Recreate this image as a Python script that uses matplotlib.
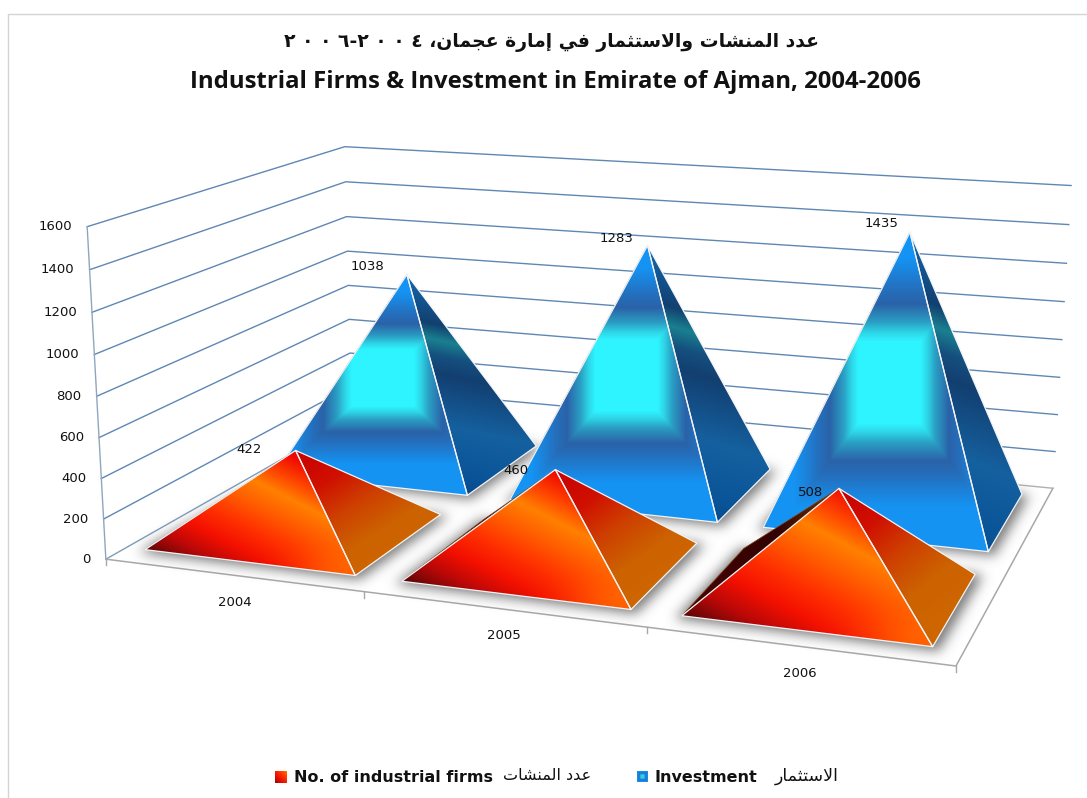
import numpy as np
import matplotlib
matplotlib.use('Agg')
import matplotlib.pyplot as plt
from matplotlib.patches import Polygon
from matplotlib.path import Path
from matplotlib.colors import to_rgb

years = ['2004', '2005', '2006']
firms = [422, 460, 508]
investment = [1038, 1283, 1435]
value_ticks = [0, 200, 400, 600, 800, 1000, 1200, 1400, 1600]

title_ar = 'عدد المنشات والاستثمار في إمارة عجمان،'
title_ar_years = '٢ ٠ ٠ ٦-٢ ٠ ٠ ٤'
title_en = 'Industrial Firms & Investment in Emirate of Ajman, 2004-2006'
legend_firms = 'No. of industrial firms'
legend_firms_ar = 'عدد المنشات'
legend_inv = 'Investment'
legend_inv_ar = 'الاستثمار'

# matplotlib does no arabic shaping, so pick the presentation forms by hand
FORMS = {
    'ع': (0xFEC9, 0xFECA, 0xFECB, 0xFECC), 'ل': (0xFEDD, 0xFEDE, 0xFEDF, 0xFEE0),
    'م': (0xFEE1, 0xFEE2, 0xFEE3, 0xFEE4), 'ن': (0xFEE5, 0xFEE6, 0xFEE7, 0xFEE8),
    'ش': (0xFEB5, 0xFEB6, 0xFEB7, 0xFEB8), 'ت': (0xFE95, 0xFE96, 0xFE97, 0xFE98),
    'س': (0xFEB1, 0xFEB2, 0xFEB3, 0xFEB4), 'ث': (0xFE99, 0xFE9A, 0xFE9B, 0xFE9C),
    'ف': (0xFED1, 0xFED2, 0xFED3, 0xFED4), 'ي': (0xFEF1, 0xFEF2, 0xFEF3, 0xFEF4),
    'ج': (0xFE9D, 0xFE9E, 0xFE9F, 0xFEA0),
    'د': (0xFEA9, 0xFEAA), 'ا': (0xFE8D, 0xFE8E), 'و': (0xFEED, 0xFEEE),
    'ر': (0xFEAD, 0xFEAE), 'إ': (0xFE87, 0xFE88), 'ة': (0xFE93, 0xFE94),
}


def shape(text):
    out = []
    i = 0
    prev_joins = False
    while i < len(text):
        c = text[i]
        nxt = text[i + 1] if i + 1 < len(text) else ''
        if c == 'ل' and nxt == 'ا':
            out.append(chr(0xFEFC if prev_joins else 0xFEFB))
            prev_joins = False
            i += 2
            continue
        if c not in FORMS:
            out.append(c)
            prev_joins = False
            i += 1
            continue
        f = FORMS[c]
        dual = len(f) == 4
        next_ok = dual and nxt in FORMS
        if prev_joins and next_ok:
            out.append(chr(f[3]))
        elif prev_joins:
            out.append(chr(f[1]))
        elif next_ok:
            out.append(chr(f[2]))
        else:
            out.append(chr(f[0]))
        prev_joins = dual
        i += 1
    return ''.join(reversed(out))


# box corners on the page, (category, depth, value) -> pixel
WORLD = [(0, 0, 0), (3, 0, 0), (3, 2, 0), (0, 2, 0), (0, 0, 1600), (0, 2, 1600), (3, 2, 1600)]
PIX = [(106, 558), (956, 667), (1053, 487), (351.5, 421), (87, 227), (345, 146), (1071, 186)]
rows, rhs = [], []
for (X, Y, Z), (x, y) in zip(WORLD, PIX):
    Z = Z / 1600
    rows.append([X, Y, Z, 1, 0, 0, 0, 0, -x * X, -x * Y, -x * Z])
    rhs.append(x)
    rows.append([0, 0, 0, 0, X, Y, Z, 1, -y * X, -y * Y, -y * Z])
    rhs.append(y)
sol = np.linalg.lstsq(np.array(rows, float), np.array(rhs, float), rcond=None)[0]
P = np.append(sol, 1).reshape(3, 4)


def proj(u, v, val):
    q = P @ np.array([u, v, val / 1600, 1.0])
    return q[0] / q[2], q[1] / q[2]


def ramp(t, stops):
    pos = [s[0] for s in stops]
    cols = np.array([to_rgb(s[1]) for s in stops])
    return np.dstack([np.interp(t, pos, cols[:, k]) for k in range(3)])


def tex_blue_front(px, py, bw):
    d = np.maximum(np.abs(px - 0.56) * bw / 34, np.abs(py - 0.47) / 0.14)
    return ramp(d, [(0, '#2EF4FF'), (0.92, '#2EF4FF'), (1.12, '#2ED4E6'), (1.35, '#2A9FC4'),
                    (1.75, '#2A62A8'), (2.1, '#2470BE'), (2.8, '#1494F4'), (9, '#1490F0')])


def tex_blue_side(px, py, bw):
    q = py - 0.12 * px
    return ramp(q, [(-0.12, '#1A80D0'), (0.12, '#12508A'), (0.2, '#12406F'), (0.27, '#1A8090'),
                    (0.34, '#15507F'), (0.42, '#123F70'), (0.65, '#15609F'), (0.85, '#0A5598'), (1, '#054488')])


def tex_red_front(px, py, bw):
    w = py - 0.85 * px
    img = ramp(w, [(-0.75, '#E00000'), (-0.55, '#F00800'), (-0.35, '#FF4800'), (-0.2, '#FF8000'),
                   (0.0, '#FF5A00'), (0.2, '#FF3000'), (0.4, '#F41000'), (0.6, '#B80808'), (0.8, '#5A0606')])
    bump = 0.6 * np.exp(-((px - 0.95) ** 2 + (py - 0.98) ** 2) / 0.05)[..., None]
    return img * (1 - bump) + np.array(to_rgb('#FF7A00')) * bump


def tex_red_side(px, py, bw):
    q = 0.55 * px + 0.75 * py
    return ramp(q, [(0, '#C80000'), (0.3, '#D01000'), (0.55, '#CE4000'), (0.8, '#CC6200'), (1.3, '#D06A00')])


def tex_dark(px, py, bw):
    return ramp(px, [(0, '#4A0404'), (0.6, '#300202'), (1, '#7A3A00')])


def tex_legend_red(px, py, bw):
    return ramp(py - px, [(-1, '#FF7000'), (-0.3, '#FF3000'), (0.3, '#E81000'), (1, '#A00808')])


def tex_legend_blue(px, py, bw):
    d = np.maximum(np.abs(px - 0.5), np.abs(py - 0.5))
    return ramp(d, [(0, '#2ED0F0'), (0.15, '#2ED0F0'), (0.3, '#2470BE'), (0.5, '#1490F0')])


fig = plt.figure(figsize=(10.87, 7.98), dpi=100)
ax = fig.add_axes([0, 0, 1, 1])
ax.axis('off')
W, H = 1087, 798


def face(pts, tex, edge='#F2F4F8', z=5, lw=0.9):
    xs = [p[0] for p in pts]
    ys = [p[1] for p in pts]
    x0, x1, y0, y1 = min(xs), max(xs), min(ys), max(ys)
    n_x, n_y = max(int(x1 - x0) + 1, 2), max(int(y1 - y0) + 1, 2)
    px, py = np.meshgrid(np.linspace(0, 1, n_x), np.linspace(0, 1, n_y))
    im = ax.imshow(tex(px, py, x1 - x0), extent=(x0, x1, y1, y0), aspect='auto', zorder=z, interpolation='bilinear')
    poly = Polygon(pts, closed=True, fc='none', ec=edge, lw=lw, zorder=z + 0.1, joinstyle='round')
    ax.add_patch(poly)
    im.set_clip_path(poly)


# white page with the thin frame on top and left
ax.plot([8, 8, W], [H, 14, 14], color='#D4D4D4', lw=1, zorder=1)

# walls
for val in value_ticks:
    a, b, c = proj(0, 0, val), proj(0, 2, val), proj(3, 2, val)
    if val == 0:
        ax.plot([a[0], b[0]], [a[1], b[1]], color='#7F9CB8', lw=1, zorder=2)
    else:
        ax.plot([a[0], b[0], c[0]], [a[1], b[1], c[1]], color='#5F87B4', lw=1, zorder=2)
    ax.text(a[0] - 15, a[1], str(val), ha='right', va='center', fontsize=9.5, color='#111111', zorder=9)

top, bot = proj(0, 0, 1600), proj(0, 0, 0)
ax.plot([top[0], bot[0]], [top[1], bot[1]], color='#8FA6BE', lw=1, zorder=2)

# floor edges and ticks
corners = [proj(0, 0, 0), proj(3, 0, 0), proj(3, 2, 0)]
ax.plot([c[0] for c in corners], [c[1] for c in corners], color='#A8A8A8', lw=1.1, zorder=2)
back_end = proj(3, 2, 0)
back_mid = proj(2.85, 2, 0)
ax.plot([back_mid[0], back_end[0]], [back_mid[1], back_end[1]], color='#B0B0B0', lw=1, zorder=2)
for k in range(0, len(years) + 1):
    tx, ty = proj(k, 0, 0)
    ax.plot([tx, tx], [ty, ty + 6], color='#A8A8A8', lw=1, zorder=2)

# footprints of the two rows of pyramids
INSET_L = 0.075
INSET_R = 0.1
INSET_F = 0.14
INSET_B = 0.12


def base(k, row):
    u0, u1 = k + INSET_L, k + 1 - INSET_R
    v0, v1 = row + INSET_F, row + 1 - INSET_B
    return (u0, v0), (u1, v0), (u1, v1), (u0, v1)


# soft floor shadow
yy, xx = np.mgrid[0:H, 0:W]
mask = np.zeros((H, W))
for row in [0, 1]:
    for k in range(3):
        pts = np.array([proj(u, v, 0) for u, v in base(k, row)])
        pts = pts.mean(axis=0) + (pts - pts.mean(axis=0)) * 1.05 + np.array([1, 2])
        x0, y0 = np.floor(pts.min(axis=0)).astype(int)
        x1, y1 = np.ceil(pts.max(axis=0)).astype(int)
        sub = Path(pts).contains_points(
            np.column_stack([xx[y0:y1, x0:x1].ravel() + 0.5, yy[y0:y1, x0:x1].ravel() + 0.5]))
        mask[y0:y1, x0:x1] = np.maximum(mask[y0:y1, x0:x1], sub.reshape(y1 - y0, x1 - x0))
kernel = np.exp(-np.arange(-18, 19) ** 2 / (2 * 6.0 ** 2))
kernel /= kernel.sum()
blur = np.apply_along_axis(lambda r: np.convolve(r, kernel, mode='same'), 0, mask)
blur = np.apply_along_axis(lambda r: np.convolve(r, kernel, mode='same'), 1, blur)
shadow = np.zeros((H, W, 4))
shadow[..., :3] = 0.5
shadow[..., 3] = np.clip(blur * 1.05, 0, 1)
ax.imshow(shadow, extent=(0, W, H, 0), aspect='auto', zorder=3, interpolation='bilinear')


def pyramid(k, row, value, tex_front, tex_side, z):
    (a, b, c, d) = [proj(u, v, 0) for u, v in base(k, row)]
    apex = proj(k + 0.5, row + 0.5, value)
    face([d, a, apex], tex_dark, edge='#7A3A10', z=z, lw=0.5)
    face([a, b, apex], tex_front, z=z + 1)
    face([b, c, apex], tex_side, z=z + 1)
    return apex


label_dx = [-39, -31, -28]
label_dy = [-8, -7, -9]
red_dx = [-47, -39, -28]
red_dy = [-1, 1, 4]

for k, val in enumerate(investment):
    apex = pyramid(k, 1, val, tex_blue_front, tex_blue_side, 4 + k)
    ax.text(apex[0] + label_dx[k], apex[1] + label_dy[k], str(val), ha='center', va='center',
            fontsize=9.5, color='#111111', zorder=20)
for k, val in enumerate(firms):
    apex = pyramid(k, 0, val, tex_red_front, tex_red_side, 10 + k)
    ax.text(apex[0] + red_dx[k], apex[1] + red_dy[k], str(val), ha='center', va='center',
            fontsize=9.5, color='#111111', zorder=20)

for k, y in enumerate(years):
    tx, ty = proj(k + 0.5, 0, 0)
    ax.text(tx + 2, ty + 27, y, ha='center', va='center', fontsize=9.5, color='#111111', zorder=9)

# titles
ax.text(552, 43, title_ar_years + ' ' + shape(title_ar), ha='center', va='center', fontsize=13.5,
        fontweight='bold', family='DejaVu Sans', color='#111111', zorder=20)
ax.text(555, 82, title_en, ha='center', va='center', fontsize=17.2, fontweight='bold',
        family='Open Sans', color='#111111', zorder=20)

# legend
face([(275, 771), (287, 771), (287, 783), (275, 783)], tex_legend_red, edge='none', z=20)
face([(637, 771), (648, 771), (648, 782), (637, 782)], tex_legend_blue, edge='none', z=20)
ax.text(294, 777, legend_firms, ha='left', va='center', fontsize=11.5, fontweight='bold',
        family='DejaVu Sans', color='#111111', zorder=20)
ax.text(503, 776, shape(legend_firms_ar), ha='left', va='center', fontsize=11.5,
        family='DejaVu Sans', color='#111111', zorder=20)
ax.text(654, 777, legend_inv, ha='left', va='center', fontsize=11.5, fontweight='bold',
        family='DejaVu Sans', color='#111111', zorder=20)
ax.text(775, 776, shape(legend_inv_ar), ha='left', va='center', fontsize=12.5,
        family='DejaVu Sans', color='#111111', zorder=20)

ax.set_xlim(0, W)
ax.set_ylim(H, 0)
fig.savefig('out.png', dpi=100, facecolor='white')
